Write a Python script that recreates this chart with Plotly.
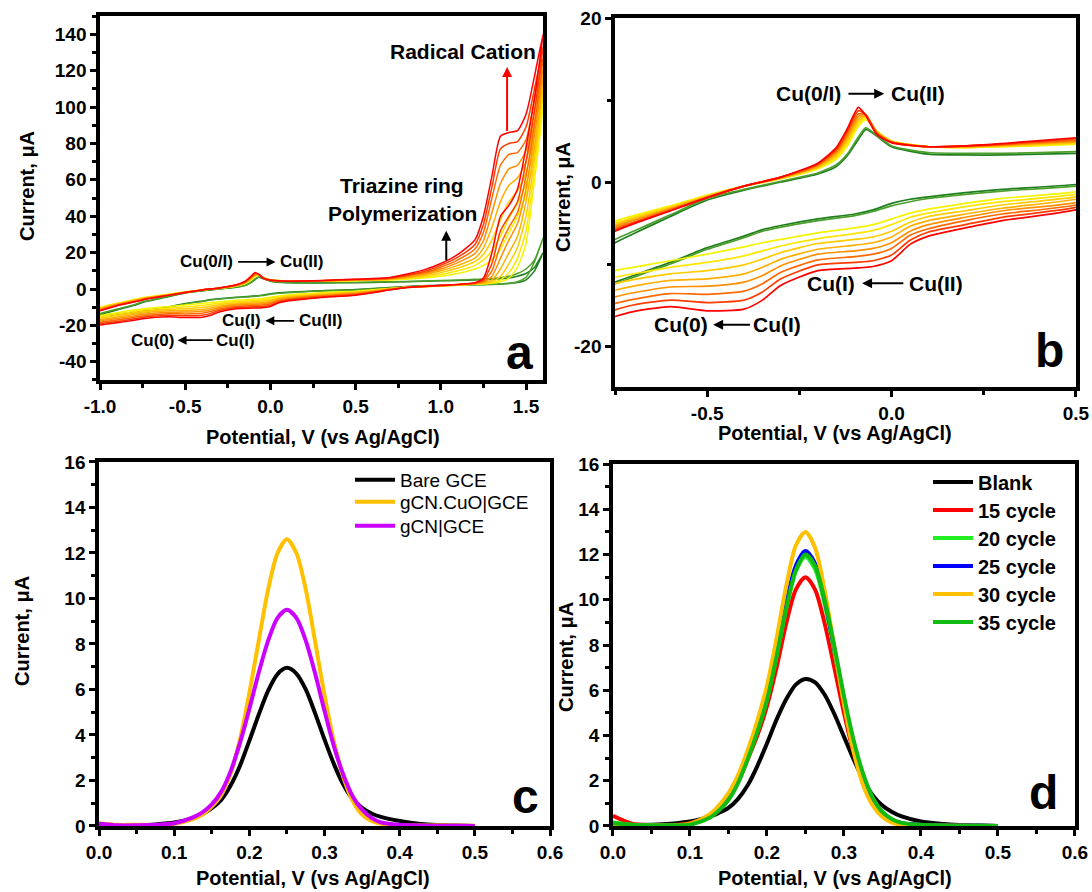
import plotly.graph_objects as go

# ---------------- Panel a / b : CV cycles (same data, b is a zoom) ----------------
CV_X_FWD = [-1.0, -0.9, -0.8, -0.75, -0.7, -0.6, -0.5, -0.4, -0.3, -0.2, -0.15, -0.12, -0.09, -0.07,
            -0.04, 0.0, 0.1, 0.2, 0.3, 0.5, 0.7, 0.9, 1.0, 1.1, 1.2, 1.25, 1.3, 1.35, 1.4, 1.45, 1.5, 1.55, 1.6]
CV_X_REV = [1.55, 1.5, 1.45, 1.4, 1.35, 1.3, 1.25, 1.2, 1.0, 0.8, 0.5, 0.3, 0.2, 0.1, 0.05, 0.0, -0.05,
            -0.1, -0.2, -0.3, -0.35, -0.4, -0.5, -0.6, -0.7, -0.75, -0.8, -0.9, -1.0]

CV_I_FWD = [
    [-14, -11.5, -9, -7.4, -6.3, -4.2, -2.2, -1.0, 0.0, 1.0, 1.9, 3.2, 5.2, 6.4, 5.6, 4.3, 3.4, 3.3, 3.3, 3.5, 3.8, 4.2, 4.5, 4.7, 5.0, 5.1, 5.3, 5.6, 6.0, 7.0, 8.5, 12, 20],
    [-13.5, -11, -8.6, -7.0, -6.0, -4.0, -2.0, -0.9, 0.1, 1.1, 2.1, 3.4, 5.5, 6.6, 5.7, 4.4, 3.6, 3.5, 3.5, 3.7, 4.0, 4.4, 4.7, 5.0, 5.3, 5.5, 5.8, 6.2, 7.0, 8.5, 11, 16, 28],
    [-10, -7.8, -5.8, -4.8, -4.1, -2.9, -1.6, -0.5, 0.4, 1.6, 2.8, 4.4, 6.8, 7.6, 6.2, 5.0, 4.3, 4.2, 4.3, 4.6, 5.0, 6.0, 7.0, 8.5, 11, 13, 16, 22, 31, 40, 52, 75, 100],
    [-10.3, -8.0, -6.0, -5.0, -4.3, -3.0, -1.7, -0.5, 0.4, 1.7, 3.0, 4.7, 7.1, 7.8, 6.2, 5.0, 4.3, 4.2, 4.3, 4.7, 5.1, 6.6, 8.0, 10, 13, 16, 21, 29, 39, 47, 58, 80, 106],
    [-10.6, -8.2, -6.2, -5.2, -4.4, -3.1, -1.7, -0.5, 0.5, 1.8, 3.2, 5.0, 7.4, 8.0, 6.1, 4.9, 4.3, 4.3, 4.4, 4.8, 5.3, 7.2, 9.0, 11.5, 15, 19, 27, 38, 48, 54, 64, 86, 111],
    [-10.9, -8.4, -6.4, -5.3, -4.6, -3.2, -1.8, -0.5, 0.5, 1.9, 3.4, 5.3, 7.7, 8.1, 6.1, 4.9, 4.3, 4.3, 4.5, 4.9, 5.5, 7.8, 10, 13, 17, 22.5, 34, 48, 57, 61, 70, 92, 116],
    [-11.2, -8.6, -6.6, -5.5, -4.7, -3.3, -1.8, -0.5, 0.5, 2.0, 3.6, 5.6, 8.0, 8.2, 6.0, 4.9, 4.3, 4.3, 4.5, 5.0, 5.7, 8.4, 11, 14.5, 19.5, 26.5, 42, 58, 66, 68, 76, 98, 121],
    [-11.5, -8.8, -6.8, -5.7, -4.9, -3.4, -1.9, -0.5, 0.6, 2.1, 3.8, 5.9, 8.3, 8.2, 6.0, 4.9, 4.3, 4.4, 4.6, 5.1, 5.9, 9.0, 12, 16, 22, 31, 50, 68, 74, 75, 82, 104, 127],
    [-11.8, -9.0, -7.0, -5.9, -5.0, -3.5, -1.9, -0.5, 0.6, 2.2, 4.0, 6.2, 8.7, 8.2, 5.9, 4.8, 4.3, 4.4, 4.6, 5.3, 6.1, 9.6, 13, 17.5, 24.5, 35.5, 56, 77, 80, 81, 89, 110, 133],
    [-12, -9.2, -7.1, -6.0, -5.1, -3.5, -1.9, -0.5, 0.6, 2.3, 4.2, 6.5, 9.1, 8.1, 5.8, 4.8, 4.3, 4.4, 4.7, 5.4, 6.3, 10.5, 14, 19, 27, 40, 62, 84, 86, 87, 96, 117, 140],
]

CV_I_REV = [
    [10, 5, 3.5, 3.0, 2.7, 2.5, 2.4, 2.3, 2.0, 1.4, -0.3, -0.9, -1.3, -1.8, -2.1, -2.6, -3.4, -3.9, -4.5, -5.3, -5.8, -6.6, -8.0, -9.8, -11.4, -12.2, -12.8, -13.8, -14.5],
    [15, 6.5, 4.0, 3.2, 2.8, 2.6, 2.5, 2.4, 1.8, 1.2, -0.5, -1.1, -1.5, -2.0, -2.4, -2.9, -3.6, -4.1, -4.7, -5.5, -6.0, -6.8, -8.2, -10.0, -11.6, -12.4, -13.0, -14.0, -14.8],
    [60, 25, 12, 6, 4.0, 3.2, 2.8, 2.6, 1.6, 1.0, -1.2, -2.0, -2.6, -3.3, -3.8, -4.5, -5.2, -5.6, -6.2, -7.0, -7.4, -7.9, -8.8, -9.6, -10.4, -10.8, -11.5, -13.0, -14.5],
    [66, 32, 17, 9, 5.0, 3.4, 2.9, 2.7, 1.7, 1.0, -1.5, -2.4, -3.0, -3.8, -4.3, -5.2, -5.9, -6.3, -6.9, -7.8, -8.4, -9.0, -9.8, -10.4, -11.2, -11.6, -12.3, -13.8, -15.3],
    [72, 40, 23, 14, 7, 4.0, 3.1, 2.8, 1.7, 0.9, -1.8, -2.8, -3.5, -4.2, -4.9, -6.0, -6.7, -7.0, -7.5, -8.6, -9.4, -10.1, -10.8, -11.2, -11.9, -12.4, -13.1, -14.6, -16.0],
    [78, 48, 29, 20, 11, 5.0, 3.4, 2.9, 1.8, 0.9, -2.1, -3.2, -3.9, -4.7, -5.4, -6.7, -7.4, -7.7, -8.2, -9.4, -10.4, -11.2, -11.8, -12.0, -12.7, -13.2, -13.9, -15.4, -16.8],
    [85, 55, 36, 27, 17, 7, 3.8, 3.0, 1.8, 0.9, -2.5, -3.5, -4.3, -5.2, -6.0, -7.4, -8.1, -8.4, -8.8, -10.2, -11.4, -12.2, -12.7, -12.8, -13.5, -14.0, -14.8, -16.2, -17.5],
    [91, 62, 42, 34, 24, 10, 4.3, 3.2, 1.9, 0.9, -2.8, -3.9, -4.7, -5.7, -6.5, -8.1, -8.8, -9.1, -9.5, -11.0, -12.4, -13.3, -13.7, -13.6, -14.3, -14.8, -15.6, -17.0, -18.3],
    [98, 70, 48, 40, 32, 14, 5.0, 3.3, 1.9, 0.8, -3.1, -4.3, -5.2, -6.1, -7.1, -8.9, -9.6, -9.8, -10.1, -11.8, -13.4, -14.4, -14.7, -14.4, -15.0, -15.6, -16.4, -17.8, -19.0],
    [105, 78, 55, 46, 40, 20, 6.0, 3.5, 2.0, 0.8, -3.4, -4.7, -5.6, -6.6, -7.6, -9.6, -10.3, -10.5, -10.8, -12.6, -14.4, -15.5, -15.7, -15.2, -15.8, -16.4, -17.2, -18.6, -19.8],
]

CYCLE_COLORS = ["#1f7f1f", "#4c9f2c", "#f4f400", "#ffe600", "#ffcc00", "#ffb000",
                "#ff9000", "#ff6a00", "#ff3c00", "#ff0000"]

# tick labels (hyphen minus as in the original)
A_XTICKS = [-1.0, -0.5, 0.0, 0.5, 1.0, 1.5]
A_XLABELS = ["-1.0", "-0.5", "0.0", "0.5", "1.0", "1.5"]
A_YTICKS = [-40, -20, 0, 20, 40, 60, 80, 100, 120, 140]
A_YLABELS = ["-40", "-20", "0", "20", "40", "60", "80", "100", "120", "140"]
B_XTICKS = [-0.5, 0.0, 0.5]
B_XLABELS = ["-0.5", "0.0", "0.5"]
B_YTICKS = [-20, 0, 20]
B_YLABELS = ["-20", "0", "20"]

# ---------------- Panel c / d : DPV ----------------
DPV_X = [0.0, 0.025, 0.05, 0.075, 0.1, 0.125, 0.1375, 0.15, 0.1625, 0.175, 0.1875, 0.2, 0.2125,
         0.225, 0.2375, 0.25, 0.2625, 0.275, 0.2875, 0.3, 0.3125, 0.325, 0.3375, 0.35, 0.3625,
         0.375, 0.4, 0.425, 0.45, 0.475, 0.5]

C_NAMES = ["Bare GCE", "gCN.CuO|GCE", "gCN|GCE"]
C_COLORS = ["#000000", "#ffc000", "#cc00ff"]
C_VALUES = [
    [0.02, 0.01, 0.03, 0.07, 0.15, 0.35, 0.52, 0.78, 1.15, 1.78, 2.65, 3.75, 4.9, 5.95, 6.68, 6.95,
     6.7, 6.0, 4.95, 3.8, 2.72, 1.82, 1.18, 0.8, 0.55, 0.4, 0.22, 0.1, 0.04, 0.02, 0.0],
    [0.12, 0.05, 0.06, 0.04, 0.1, 0.3, 0.5, 0.85, 1.35, 2.3, 3.8, 5.85, 8.15, 10.4, 12.0, 12.6,
     12.0, 10.4, 8.1, 5.75, 3.7, 2.15, 1.1, 0.5, 0.22, 0.1, 0.03, 0.02, 0.03, 0.02, 0.01],
    [0.1, 0.03, 0.03, 0.05, 0.12, 0.38, 0.6, 0.95, 1.5, 2.4, 3.65, 5.15, 6.75, 8.15, 9.15, 9.5,
     9.15, 8.15, 6.7, 5.05, 3.5, 2.25, 1.3, 0.72, 0.36, 0.16, 0.05, 0.02, 0.01, 0.01, 0.0],
]

D_NAMES = ["Blank", "15 cycle", "20 cycle", "25 cycle", "30 cycle", "35 cycle"]
D_COLORS = ["#000000", "#ff0000", "#22ee22", "#0000ff", "#ffc000", "#11bb11"]
D_VALUES = [
    [0.05, 0.03, 0.05, 0.1, 0.2, 0.4, 0.58, 0.8, 1.2, 1.8, 2.65, 3.65, 4.7, 5.6, 6.25, 6.5,
     6.35, 5.8, 4.95, 3.95, 2.95, 2.05, 1.35, 0.9, 0.62, 0.42, 0.2, 0.1, 0.04, 0.02, 0.0],
    [0.45, 0.1, 0.04, 0.04, 0.12, 0.45, 0.8, 1.25, 1.95, 2.95, 4.0, 5.3, 7.0, 8.95, 10.45, 11.0,
     10.45, 8.95, 7.0, 5.0, 3.25, 1.95, 1.05, 0.52, 0.25, 0.12, 0.04, 0.02, 0.01, 0.01, 0.0],
    [0.15, 0.05, 0.03, 0.03, 0.08, 0.4, 0.75, 1.25, 2.0, 3.05, 4.2, 5.6, 7.5, 9.6, 11.25, 11.9,
     11.35, 9.8, 7.7, 5.5, 3.6, 2.15, 1.15, 0.55, 0.25, 0.12, 0.04, 0.02, 0.01, 0.01, 0.0],
    [0.1, 0.04, 0.03, 0.03, 0.08, 0.42, 0.78, 1.3, 2.05, 3.1, 4.3, 5.75, 7.7, 9.85, 11.5, 12.15,
     11.6, 10.0, 7.85, 5.6, 3.65, 2.2, 1.15, 0.55, 0.25, 0.12, 0.04, 0.02, 0.01, 0.01, 0.0],
    [0.1, 0.04, 0.03, 0.03, 0.1, 0.5, 0.9, 1.45, 2.25, 3.35, 4.65, 6.2, 8.3, 10.6, 12.4, 13.0,
     12.3, 10.4, 7.9, 5.4, 3.3, 1.8, 0.9, 0.4, 0.15, 0.05, 0.02, 0.01, 0.01, 0.0, 0.0],
    [0.12, 0.05, 0.03, 0.03, 0.06, 0.35, 0.68, 1.15, 1.9, 2.95, 4.15, 5.55, 7.5, 9.6, 11.3, 12.0,
     11.5, 10.0, 7.95, 5.75, 3.8, 2.3, 1.25, 0.62, 0.3, 0.14, 0.05, 0.02, 0.01, 0.01, 0.0],
]

FONT = "Liberation Sans, Arial, sans-serif"
fig = go.Figure()

for k in range(len(CV_I_FWD)):
    xs = CV_X_FWD + CV_X_REV
    ys = CV_I_FWD[k] + CV_I_REV[k]
    fig.add_trace(go.Scatter(x=xs, y=ys, mode="lines", xaxis="x", yaxis="y",
                             line=dict(color=CYCLE_COLORS[k], width=1.5, shape="spline", smoothing=0.6),
                             showlegend=False, hoverinfo="skip"))
    fig.add_trace(go.Scatter(x=xs, y=ys, mode="lines", xaxis="x2", yaxis="y2",
                             line=dict(color=CYCLE_COLORS[k], width=1.7, shape="spline", smoothing=0.6),
                             showlegend=False, hoverinfo="skip"))

# one legend per entry so that row spacing can follow the original
C_LEG_Y = [0.4832, 0.4585, 0.4316]
D_LEG_Y = [0.4815, 0.4501, 0.4187, 0.3873, 0.3560, 0.3246]
legends = {}
for i, (name, col, vals) in enumerate(zip(C_NAMES, C_COLORS, C_VALUES)):
    lg = "legend" if i == 0 else "legend%d" % (i + 1)
    legends[lg] = dict(x=0.3205, y=C_LEG_Y[i], xanchor="left", yanchor="top",
                       bgcolor="rgba(0,0,0,0)",
                       font=dict(family=FONT, size=19, color="black"), itemwidth=40)
    fig.add_trace(go.Scatter(x=DPV_X, y=vals, mode="lines", xaxis="x3", yaxis="y3", name=name,
                             line=dict(color=col, width=4, shape="spline", smoothing=0.8),
                             legend=lg))

for i, (name, col, vals) in enumerate(zip(D_NAMES, D_COLORS, D_VALUES)):
    lg = "legend%d" % (i + 4)
    legends[lg] = dict(x=0.8498, y=D_LEG_Y[i], xanchor="left", yanchor="top",
                       bgcolor="rgba(0,0,0,0)",
                       font=dict(family=FONT, size=20, color="black", weight="bold"), itemwidth=40)
    fig.add_trace(go.Scatter(x=DPV_X, y=vals, mode="lines", xaxis="x4", yaxis="y4", name=name,
                             line=dict(color=col, width=4, shape="spline", smoothing=0.8),
                             legend=lg))


def ax(domain, rng, minor_dtick, minor_tick0=0, dtick=None, tickvals=None, ticktext=None,
       fmt=None, anchor=None):
    d = dict(domain=domain, range=rng, showline=True, linewidth=3.5, automargin=False,
             linecolor="black", mirror=True, ticks="outside", ticklen=6, tickwidth=2.5,
             tickcolor="black", showgrid=False, zeroline=False,
             tickfont=dict(family=FONT, size=19, color="black", weight="bold"),
             minor=dict(tickmode="linear", tick0=minor_tick0, dtick=minor_dtick, ticks="outside",
                        ticklen=4, tickwidth=2.5, tickcolor="black", showgrid=False),
             anchor=anchor)
    if tickvals is not None:
        d["tickmode"] = "array"
        d["tickvals"] = tickvals
        d["ticktext"] = ticktext
    else:
        d["tick0"] = 0
        d["dtick"] = dtick
    if fmt:
        d["tickformat"] = fmt
    return d


fig.update_layout(
    width=1092, height=892, margin=dict(l=0, r=0, t=0, b=0),
    paper_bgcolor="white", plot_bgcolor="white",
    xaxis=ax([0.0916, 0.4973], [-1.0, 1.6], 0.25, -1.0, tickvals=A_XTICKS, ticktext=A_XLABELS,
             anchor="y"),
    yaxis=ax([0.574, 0.982], [-50, 150], 10, tickvals=A_YTICKS, ticktext=A_YLABELS, anchor="x"),
    xaxis2=ax([0.5632, 0.9853], [-0.75, 0.5], 0.25, tickvals=B_XTICKS, ticktext=B_XLABELS,
              anchor="y2"),
    yaxis2=ax([0.5661, 0.9798], [-25, 20], 10, tickvals=B_YTICKS, ticktext=B_YLABELS, anchor="x2"),
    xaxis3=ax([0.0907, 0.5037], [0, 0.6], 0.05, dtick=0.1, fmt=".1f", anchor="y3"),
    yaxis3=ax([0.074, 0.4821], [0, 16], 1, dtick=2, anchor="x3"),
    xaxis4=ax([0.5613, 0.9844], [0, 0.6], 0.05, dtick=0.1, fmt=".1f", anchor="y4"),
    yaxis4=ax([0.074, 0.4798], [0, 16], 1, dtick=2, anchor="x4"),
    **legends,
)

ann = []


def txt(x, y, s, xref, yref, size=13, xanchor="center", color="black", angle=0):
    ann.append(dict(x=x, y=y, xref=xref, yref=yref, text=s, showarrow=False, xanchor=xanchor,
                    yanchor="middle", textangle=angle,
                    font=dict(family=FONT, size=size, color=color, weight="bold")))


def arrow(x0, y0, x1, y1, xref, yref, color="black", width=1.8, size=1.0):
    ann.append(dict(x=x1, y=y1, ax=x0, ay=y0, xref=xref, yref=yref, axref=xref, ayref=yref,
                    text="", showarrow=True, arrowhead=2, arrowsize=size, arrowwidth=width,
                    arrowcolor=color))


XT = "Potential, V (vs Ag/AgCl)"
YT = "Current, μA"
# axis titles
txt(0.2958, 0.5101, XT, "paper", "paper", size=20)
txt(0.7647, 0.5146, XT, "paper", "paper", size=20)
txt(0.2866, 0.0160, XT, "paper", "paper", size=20)
txt(0.7647, 0.0160, XT, "paper", "paper", size=20)
txt(0.0247, 0.7915, YT, "paper", "paper", size=20, angle=-90)
txt(0.5156, 0.7791, YT, "paper", "paper", size=20, angle=-90)
txt(0.0201, 0.2926, YT, "paper", "paper", size=20, angle=-90)
txt(0.5183, 0.2635, YT, "paper", "paper", size=20, angle=-90)

# panel a
txt(1.128, 130.6, "Radical Cation", "x", "y", size=21)
arrow(1.389, 86, 1.389, 122, "x", "y", color="#ff0000", width=2)
txt(0.775, 56.7, "Triazine ring", "x", "y", size=21)
txt(0.775, 41.3, "Polymerization", "x", "y", size=21)
arrow(1.032, 15, 1.032, 32, "x", "y", width=2)
txt(-0.21, 14.9, "Cu(0/I)", "x", "y", size=17, xanchor="right")
arrow(-0.198, 14.9, 0.03, 14.9, "x", "y")
txt(0.044, 14.9, "Cu(II)", "x", "y", size=17, xanchor="left")
txt(-0.042, -17.5, "Cu(I)", "x", "y", size=17, xanchor="right")
arrow(0.148, -17.5, -0.03, -17.5, "x", "y")
txt(0.157, -17.5, "Cu(II)", "x", "y", size=17, xanchor="left")
txt(-0.554, -28.1, "Cu(0)", "x", "y", size=17, xanchor="right")
arrow(-0.33, -28.1, -0.545, -28.1, "x", "y")
txt(-0.33, -28.1, "Cu(I)", "x", "y", size=17, xanchor="left")
txt(1.459, -34.7, "a", "x", "y", size=48)

# panel b
txt(-0.131, 10.76, "Cu(0/I)", "x2", "y2", size=21, xanchor="right")
arrow(-0.121, 10.76, -0.02, 10.76, "x2", "y2", width=2)
txt(-0.008, 10.76, "Cu(II)", "x2", "y2", size=21, xanchor="left")
txt(-0.095, -12.35, "Cu(I)", "x2", "y2", size=21, xanchor="right")
arrow(0.036, -12.35, -0.08, -12.35, "x2", "y2", width=2)
txt(0.041, -12.35, "Cu(II)", "x2", "y2", size=21, xanchor="left")
txt(-0.493, -17.4, "Cu(0)", "x2", "y2", size=21, xanchor="right")
arrow(-0.38, -17.4, -0.484, -17.4, "x2", "y2", width=2)
txt(-0.38, -17.4, "Cu(I)", "x2", "y2", size=21, xanchor="left")
txt(0.429, -20.5, "b", "x2", "y2", size=48)

# panel c / d
txt(0.567, 1.3, "c", "x3", "y3", size=48)
txt(0.559, 1.5, "d", "x4", "y4", size=48)

fig.update_layout(annotations=ann)
fig.write_html("out.html", config={"displayModeBar": False},
               post_script="document.body.style.margin='0';")
